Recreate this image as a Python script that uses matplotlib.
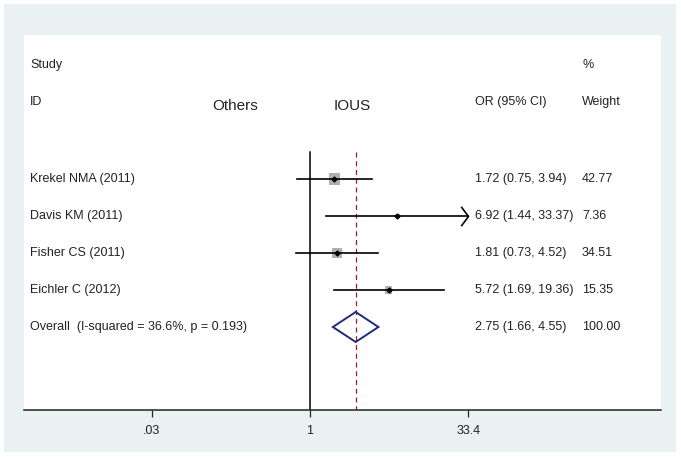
import numpy as np
import matplotlib
matplotlib.use('Agg')
import matplotlib.pyplot as plt
from matplotlib.patches import Polygon, Rectangle
import matplotlib.transforms as mtransforms

plt.rcParams['font.family'] = ['Liberation Sans', 'DejaVu Sans']

# data
studies = ['Krekel NMA (2011)', 'Davis KM (2011)', 'Fisher CS (2011)', 'Eichler C (2012)']
odds = [1.72, 6.92, 1.81, 5.72]
lower = [0.75, 1.44, 0.73, 1.69]
upper = [3.94, 33.37, 4.52, 19.36]
weights = [42.77, 7.36, 34.51, 15.35]
overall_label = 'Overall  (I-squared = 36.6%, p = 0.193)'
overall = [2.75, 1.66, 4.55]
overall_weight = 100.00
tick_vals = [0.03, 1, 33.4]
tick_labels = ['.03', '1', '33.4']
xmin, xmax = 0.00178, 2371.0
clip_hi = 33.0

W, H = 681, 457
fig = plt.figure(figsize=(W / 100, H / 100), dpi=100, facecolor='white')
fig.patches.append(Rectangle((4 / W, 5 / H), 672 / W, 448 / H, transform=fig.transFigure,
                             facecolor='#EAF1F3', edgecolor='none', zorder=-5))

# white plot region
left, right, top, bottom = 24, 661, 35, 410
ax = fig.add_axes([left / W, 1 - bottom / H, (right - left) / W, (bottom - top) / H])
ax.set_facecolor('white')
ax.set_xscale('log')
ax.set_xlim(xmin, xmax)

row_px = 37.0
y_top = -(179 - top) / row_px
y_bot = y_top + (bottom - top) / row_px
ax.set_ylim(y_bot, y_top)

for s in ['top', 'left', 'right']:
    ax.spines[s].set_visible(False)
ax.spines['bottom'].set_color('#222222')
ax.spines['bottom'].set_linewidth(1.1)
ax.set_yticks([])
ax.set_xticks(tick_vals)
ax.set_xticklabels(tick_labels, fontsize=9, color='#222222')
ax.xaxis.set_minor_locator(matplotlib.ticker.NullLocator())
ax.tick_params(axis='x', direction='out', length=5, width=0.9, pad=6, color='#222222')

n = len(studies)
line_top = y_top + (152 - top) / row_px
ax.plot([1, 1], [line_top, y_bot], color='black', lw=1.1, zorder=2)
ax.plot([overall[0], overall[0]], [line_top, y_bot], color='#9E1B2B', lw=0.9,
        ls=(0, (4, 3)), zorder=2)

chevron = [(-0.75, 1), (0, 0), (-0.75, -1)]
for i in range(n):
    hi = min(upper[i], clip_hi)
    ax.plot([lower[i], hi], [i, i], color='black', lw=1.2, zorder=3)
    if upper[i] > clip_hi:
        # open arrowhead where the CI runs past the axis limit
        ax.plot([hi], [i], marker=chevron, ms=14, mfc='none', mec='black', mew=1.2,
                ls='none', zorder=3)
    side = 1.29 * np.sqrt(weights[i])
    ax.scatter([odds[i]], [i], marker='s', s=side ** 2, color='#B0B0B0', edgecolor='none', zorder=2.5)
    ax.scatter([odds[i]], [i], marker='D', s=6, color='black', zorder=4)

h = 15 / row_px
yo = n
dia = Polygon([(overall[1], yo), (overall[0], yo - h), (overall[2], yo), (overall[0], yo + h)],
              closed=True, fill=False, edgecolor='#1F2A78', lw=1.4, zorder=4)
ax.add_patch(dia)

# text columns
trans = mtransforms.blended_transform_factory(ax.transAxes, ax.transData)
fx = lambda px: (px - left) / (right - left)
fs = 9
y_study = y_top + (65 - top) / row_px
y_id = y_top + (102 - top) / row_px
ax.text(fx(30), y_study, 'Study', transform=trans, fontsize=fs, va='center', color='#222222')
ax.text(fx(30), y_id, 'ID', transform=trans, fontsize=fs, va='center', color='#222222')
ax.text(fx(582), y_study, '%', transform=trans, fontsize=fs, va='center', color='#222222')
ax.text(fx(582), y_id, 'Weight', transform=trans, fontsize=fs, va='center', color='#222222')
ax.text(fx(475), y_id, 'OR (95% CI)', transform=trans, fontsize=fs, va='center', color='#222222')
y_grp = y_top + (106 - top) / row_px
ax.text(fx(235), y_grp, 'Others', transform=trans, fontsize=11, va='center', ha='center', color='#222222')
ax.text(fx(352), y_grp, 'IOUS', transform=trans, fontsize=11, va='center', ha='center', color='#222222')

for i in range(n):
    ax.text(fx(30), i, studies[i], transform=trans, fontsize=fs, va='center', color='#222222')
    ax.text(fx(475), i, '%.2f (%.2f, %.2f)' % (odds[i], lower[i], upper[i]), transform=trans,
            fontsize=fs, va='center', color='#222222')
    ax.text(fx(582), i, '%.2f' % weights[i], transform=trans, fontsize=fs, va='center', color='#222222')

ax.text(fx(30), yo, overall_label, transform=trans, fontsize=fs, va='center', color='#222222')
ax.text(fx(475), yo, '%.2f (%.2f, %.2f)' % tuple(overall), transform=trans, fontsize=fs,
        va='center', color='#222222')
ax.text(fx(582), yo, '%.2f' % overall_weight, transform=trans, fontsize=fs, va='center', color='#222222')

fig.savefig('out.png', dpi=100, facecolor=fig.get_facecolor())
